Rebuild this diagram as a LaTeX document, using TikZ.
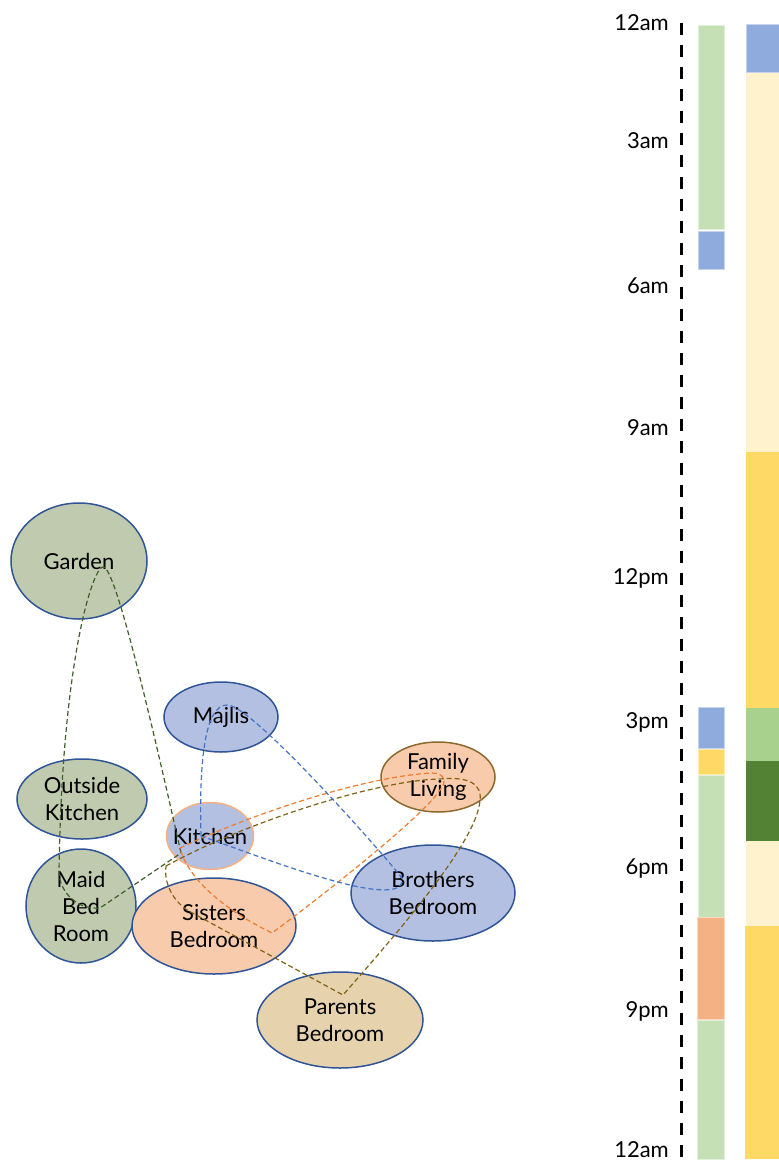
\documentclass[tikz,border=0pt]{standalone}
\usepackage{fontspec}
\setmainfont{Lato}
\usetikzlibrary{shapes.geometric}
\definecolor{roomborder}{RGB}{47,85,151}
\definecolor{fgreen}{RGB}{192,202,174}
\definecolor{fblue}{RGB}{180,192,226}
\definecolor{fpeach}{RGB}{248,203,173}
\definecolor{ftan}{RGB}{230,211,174}
\definecolor{kborder}{RGB}{244,177,131}
\definecolor{flborder}{RGB}{140,105,45}
\definecolor{cblue}{RGB}{68,114,196}
\definecolor{corange}{RGB}{237,125,49}
\definecolor{cgreen}{RGB}{62,94,42}
\definecolor{colive}{RGB}{127,98,20}
\definecolor{blgreen}{RGB}{197,224,180}
\definecolor{bblue}{RGB}{143,170,220}
\definecolor{byellow}{RGB}{255,217,102}
\definecolor{borange}{RGB}{244,177,131}
\definecolor{bcream}{RGB}{255,242,204}
\definecolor{bmgreen}{RGB}{169,209,142}
\definecolor{bdgreen}{RGB}{84,130,53}
\begin{document}
\begin{tikzpicture}[x=1pt,y=-1pt,
  room/.style={ellipse, draw=roomborder, line width=1.5pt, inner sep=0pt, align=center,
    font=\fontsize{22}{27}\selectfont},
  link/.style={dash pattern=on 5pt off 3pt, line width=1.2pt},
  tlabel/.style={anchor=base east, inner sep=0pt, font=\fontsize{22}{27}\selectfont},
  bar/.style={line width=0.8pt}]
\useasboundingbox (0,0) rectangle (779,1160);
% rooms
\node[room, fill=fgreen, minimum width=136pt, minimum height=116pt] (garden) at (79,561) {Garden};
\node[room, fill=fblue, minimum width=114pt, minimum height=70pt] (majlis) at (221,717) {Majlis};
\node[room, fill=fgreen, minimum width=130pt, minimum height=80pt] (outk) at (82,799) {Outside\\Kitchen};
\node[room, fill=fgreen, minimum width=110pt, minimum height=114pt] (maid) at (81,906) {Maid\\Bed\\Room};
\node[room, fill=fblue, draw=kborder, inner xsep=-7.5pt, minimum width=87pt, minimum height=67pt] (kitchen) at (210,836) {Kitchen};
\node[room, fill=fpeach, minimum width=164pt, minimum height=96pt] (sisters) at (214,926) {Sisters\\Bedroom};
\node[room, fill=fpeach, draw=flborder, minimum width=114pt, minimum height=70pt] (family) at (438,777) {Family\\Living};
\node[room, fill=fblue, minimum width=164pt, minimum height=96pt] (brothers) at (433,893) {Brothers\\Bedroom};
\node[room, fill=ftan, minimum width=166pt, minimum height=96pt] (parents) at (340,1020) {Parents\\Bedroom};
% waypoints
\coordinate (gK) at (181,853); \coordinate (gTop) at (103,567);
\coordinate (gL) at (59,872);  \coordinate (gM) at (100,908);
\coordinate (oK) at (166,866); \coordinate (oF) at (440,779);
\coordinate (oR) at (480,800); \coordinate (oP) at (343,995);
\coordinate (oS) at (187,910);
\coordinate (rK) at (180,848); \coordinate (rF) at (432,773);
\coordinate (rD) at (440,790); \coordinate (rS) at (272,933);
\coordinate (bK) at (201,836); \coordinate (bT) at (227,705);
\coordinate (bB) at (402,878); \coordinate (bH) at (350,885);
% loops
\draw[link, cgreen] (gK) .. controls (140,670) and (113,565) .. (gTop)
  .. controls (93,567) and (62,660) .. (gL)
  .. controls (60,895) and (80,910) .. (gM) -- (gK);
\draw[link, colive] (oK) .. controls (250,820) and (380,780) .. (oF)
  .. controls (470,776) and (482,785) .. (oR)
  .. controls (478,840) and (400,930) .. (oP) -- (oS)
  .. controls (170,898) and (164,880) .. (oK);
\draw[link, corange] (rK) .. controls (260,810) and (370,776) .. (rF)
  .. controls (445,773) and (447,782) .. (rD)
  .. controls (420,820) and (310,905) .. (rS)
  .. controls (235,915) and (190,885) .. (rK);
\draw[link, cblue] (bK) .. controls (199,760) and (205,705) .. (bT)
  .. controls (250,703) and (380,850) .. (bB)
  .. controls (405,893) and (380,892) .. (bH)
  .. controls (300,873) and (250,853) .. (bK);
% time axis
\coordinate (axTop) at (681,23); \coordinate (axBot) at (681,1158);
\draw[line width=3pt, dash pattern=on 12pt off 10pt] (axTop) -- (axBot);
\node[tlabel] (t0) at (669,30) {12am};
\node[tlabel] (t3) at (669,148) {3am};
\node[tlabel] (t6) at (669,293) {6am};
\node[tlabel] (t9) at (669,435) {9am};
\node[tlabel] (t12) at (669,584) {12pm};
\node[tlabel] (t15) at (669,728) {3pm};
\node[tlabel] (t18) at (669,874) {6pm};
\node[tlabel] (t21) at (669,1017) {9pm};
\node[tlabel] (t24) at (669,1157) {12am};
% column 1
\path[bar, fill=blgreen, draw=blgreen!50!white] (698,25) rectangle (724,229);
\path[bar, fill=bblue, draw=bblue!50!white] (698,231) rectangle (724,269);
\path[bar, fill=bblue, draw=bblue!50!white] (698,707) rectangle (724,748);
\path[bar, fill=byellow, draw=byellow!50!white] (698,749) rectangle (724,774);
\path[bar, fill=blgreen, draw=blgreen!50!white] (698,775) rectangle (724,917);
\path[bar, fill=borange, draw=borange!50!white] (697,917) rectangle (724,1019);
\path[bar, fill=blgreen, draw=blgreen!50!white] (697,1020) rectangle (724,1159);
% column 2
\path[bar, fill=bblue, draw=bblue!50!white] (746,24) rectangle (781,72);
\fill[bcream] (746,73) rectangle (781,452);
\fill[byellow] (746,452) rectangle (781,708);
\fill[bmgreen] (746,708) rectangle (781,761);
\fill[bdgreen] (746,761) rectangle (781,841);
\fill[bcream] (746,841) rectangle (781,926);
\fill[byellow] (745,926) rectangle (781,1159);
\end{tikzpicture}
\end{document}
